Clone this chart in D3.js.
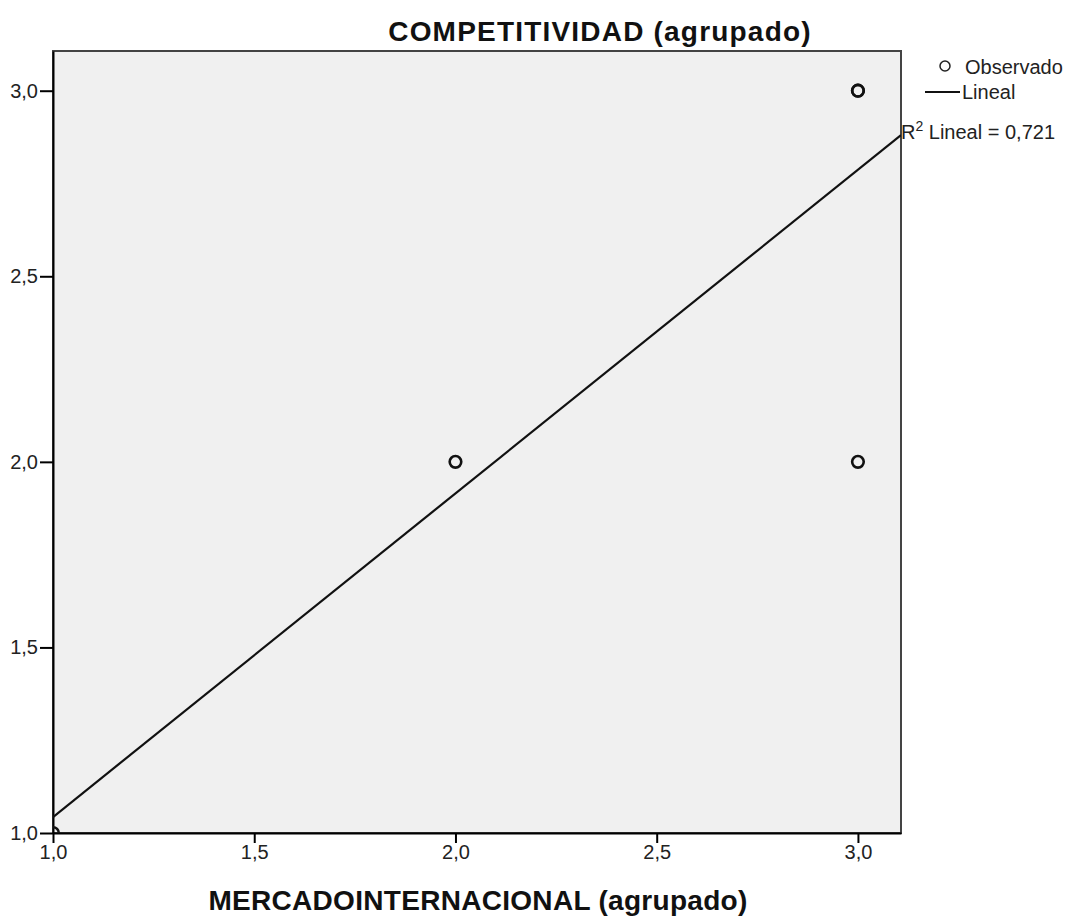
<!DOCTYPE html>
<html><head><meta charset="utf-8">
<script src="https://cdn.jsdelivr.net/npm/d3@7"></script>
<style>body{margin:0;background:#fff;} svg{display:block;} text{font-family:"Liberation Sans",Arial,sans-serif;}</style>
</head><body>
<svg id="c" width="1073" height="920"></svg>
<script>
const xVals = [1, 2, 3, 3, 3];
const yVals = [1, 2, 2, 3, 3];
const xTicks = [1.0, 1.5, 2.0, 2.5, 3.0];
const yTicks = [1.0, 1.5, 2.0, 2.5, 3.0];
const fitIntercept = 0.171;
const fitSlope = 0.872;
const r2Text = "0,721";
const title = "COMPETITIVIDAD (agrupado)";
const xTitle = "MERCADOINTERNACIONAL (agrupado)";

const svg = d3.select("#c");
const L = 53, R = 901, T = 51, B = 833;
const x = d3.scaleLinear().domain([1, 3.107]).range([L, R]);
const y = d3.scaleLinear().domain([1, 3.107]).range([B, T]);
const fmt = d => d3.format(".1f")(d).replace(".", ",");

svg.append("defs").append("clipPath").attr("id","pc").append("rect")
  .attr("x",L).attr("y",T).attr("width",R-L).attr("height",B-T);

svg.append("rect").attr("x",L).attr("y",T).attr("width",R-L).attr("height",B-T)
  .attr("fill","#f0f0f0").attr("stroke","#444").attr("stroke-width",2);

// axes
const xa = svg.append("g").attr("transform",`translate(0,${B})`)
  .call(d3.axisBottom(x).tickValues(xTicks).tickFormat(fmt).tickSize(10).tickSizeOuter(0).tickPadding(2));
const ya = svg.append("g").attr("transform",`translate(${L},0)`)
  .call(d3.axisLeft(y).tickValues(yTicks).tickFormat(fmt).tickSize(13).tickSizeOuter(0).tickPadding(2));
[xa, ya].forEach(g => {
  g.select(".domain").attr("stroke","#000").attr("stroke-width",2);
  g.selectAll(".tick line").attr("stroke","#000").attr("stroke-width",2);
  g.selectAll(".tick text").attr("font-size",20).attr("fill","#222")
    .attr("font-family","'Liberation Sans',Arial,sans-serif");
});

// fit line
const g = svg.append("g").attr("clip-path","url(#pc)");
const xd = x.domain();
g.append("line")
  .attr("x1", x(xd[0])).attr("y1", y(fitIntercept + fitSlope*xd[0]))
  .attr("x2", x(xd[1])).attr("y2", y(fitIntercept + fitSlope*xd[1]))
  .attr("stroke","#111").attr("stroke-width",2.2);

// points
g.selectAll("circle.pt").data(xVals.map((v,i)=>[v,yVals[i]])).enter().append("circle")
  .attr("class","pt").attr("cx",d=>x(d[0])).attr("cy",d=>y(d[1])).attr("r",5.8)
  .attr("fill","none").attr("stroke","#111").attr("stroke-width",2.6);

// titles
svg.append("text").attr("x",600).attr("y",41).attr("text-anchor","middle")
  .attr("font-size",28).attr("font-weight","bold").attr("letter-spacing",1.2).attr("fill","#111").text(title);
svg.append("text").attr("x",478).attr("y",910).attr("text-anchor","middle")
  .attr("font-size",28).attr("font-weight","bold").attr("letter-spacing",0.3).attr("fill","#111").text(xTitle);

// legend
svg.append("circle").attr("cx",945).attr("cy",66).attr("r",5).attr("fill","none")
  .attr("stroke","#222").attr("stroke-width",1.5);
svg.append("text").attr("x",965).attr("y",74).attr("font-size",20).attr("fill","#222").text("Observado");
svg.append("line").attr("x1",925).attr("x2",960).attr("y1",92).attr("y2",92)
  .attr("stroke","#111").attr("stroke-width",2);
svg.append("text").attr("x",962).attr("y",99).attr("font-size",20).attr("fill","#222").text("Lineal");
const rt = svg.append("text").attr("x",901).attr("y",139).attr("font-size",20).attr("fill","#222");
rt.append("tspan").text("R");
rt.append("tspan").attr("font-size",14).attr("dy",-8).text("2");
rt.append("tspan").attr("dy",8).text(" Lineal = " + r2Text);
</script>
</body></html>
